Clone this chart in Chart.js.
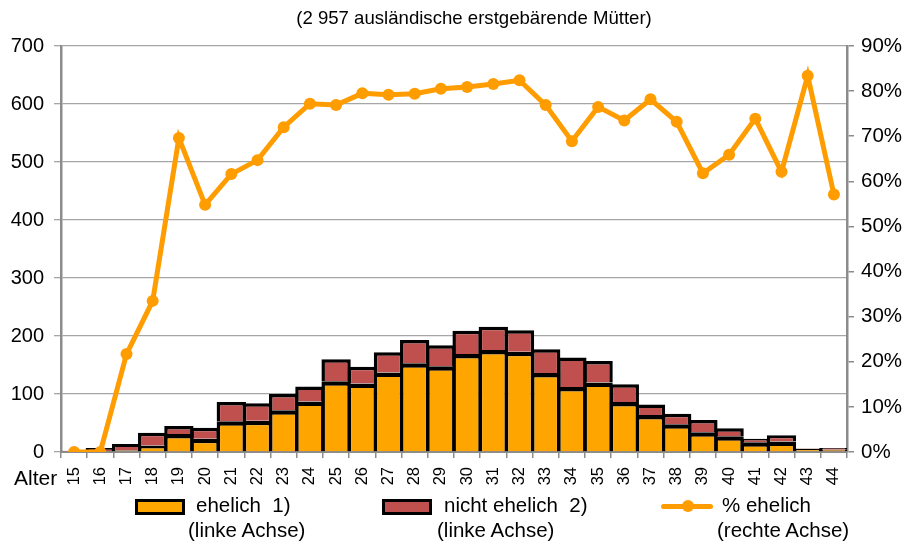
<!DOCTYPE html>
<html>
<head>
<meta charset="utf-8">
<script src="https://cdn.jsdelivr.net/npm/chart.js@4/dist/chart.umd.min.js"></script>
<style>
  html, body { margin: 0; padding: 0; background: #fff; }
  #wrap { position: relative; width: 906px; height: 543px; font-family: "Liberation Sans", Arial, sans-serif; color: #000; }
  canvas { position: absolute; left: 0; top: 0; }
  .txt { position: absolute; white-space: nowrap; line-height: 1; }
  .box { position: absolute; border: 3px solid #000; box-sizing: border-box; }
</style>
</head>
<body>
<div id="wrap">
  <canvas id="c" width="906" height="543"></canvas>
  <div class="txt" id="title" style="left:0;width:948px;top:9px;text-align:center;font-size:18.6px;">(2 957 ausländische erstgebärende Mütter)</div>
  <div class="txt" style="left:14px;top:467px;font-size:21px;">Alter</div>

  <div class="box" style="left:135px;top:499px;width:50px;height:16px;background:#FFA500;"></div>
  <div class="txt" style="left:196px;top:495px;font-size:20.5px;">ehelich&nbsp; 1)</div>
  <div class="txt" style="left:188px;top:520px;font-size:20.5px;">(linke Achse)</div>

  <div class="box" style="left:382px;top:499px;width:50px;height:16px;background:#C0504D;"></div>
  <div class="txt" style="left:444px;top:495px;font-size:20.5px;">nicht ehelich&nbsp; 2)</div>
  <div class="txt" style="left:437px;top:520px;font-size:20.5px;">(linke Achse)</div>

  <div style="position:absolute;left:661px;top:504px;width:52px;height:5px;background:#FF9C00;border-radius:3px;"></div>
  <div style="position:absolute;left:682px;top:500px;width:12px;height:12px;background:#FF9C00;border-radius:6px;"></div>
  <div class="txt" style="left:722px;top:495px;font-size:20.5px;">% ehelich</div>
  <div class="txt" style="left:717px;top:520px;font-size:20.5px;">(rechte Achse)</div>
</div>
<script>
const ages = ['15','16','17','18','19','20','21','22','23','24','25','26','27','28','29','30','31','32','33','34','35','36','37','38','39','40','41','42','43','44'];
const ehelich = [0, 0, 3, 11, 31, 23, 53, 54, 72, 87, 122, 118, 137, 153, 148, 169, 176, 173, 136, 112, 120, 86, 64, 48, 34, 27, 17, 18, 5, 4];
const nichtEhelich = [2, 7, 11, 22, 14, 19, 33, 30, 28, 26, 38, 29, 35, 40, 36, 40, 40, 37, 41, 51, 37, 31, 18, 18, 21, 14, 6, 11, 1, 3];
const pctEhelich = [0, 0, 21.7, 33.5, 69.6, 54.8, 61.6, 64.7, 72.0, 77.2, 76.9, 79.5, 79.2, 79.4, 80.5, 80.9, 81.6, 82.4, 76.9, 68.9, 76.5, 73.5, 78.2, 73.2, 61.8, 65.9, 73.9, 62.1, 83.4, 57.1];
const leftTicks = [0, 100, 200, 300, 400, 500, 600, 700];
const rightTicks = [0, 10, 20, 30, 40, 50, 60, 70, 80, 90];

// the "nicht ehelich" segment sits on top of "ehelich": drawn as a bar
// spanning [ehelich, ehelich + nicht ehelich] behind the ehelich bar
const nichtSegment = ehelich.map((v, i) => [v, v + nichtEhelich[i]]);

const FONT = "'Liberation Sans', Arial, sans-serif";
const axisGrey = '#8C8C8C';

new Chart(document.getElementById('c'), {
  data: {
    labels: ages,
    datasets: [
      {
        type: 'line', label: '% ehelich', data: pctEhelich, yAxisID: 'y1',
        borderColor: '#FF9C00', backgroundColor: '#FF9C00', borderWidth: 5,
        pointRadius: 6, pointHoverRadius: 6, pointBackgroundColor: '#FF9C00', pointBorderWidth: 0,
        tension: 0, order: 0
      },
      {
        type: 'bar', label: 'ehelich 1)', data: ehelich, yAxisID: 'y',
        backgroundColor: '#FFA500', borderColor: '#000',
        borderWidth: { top: 4.5, left: 3.5, right: 3.5, bottom: 0 }, borderSkipped: false, inflateAmount: 0,
        barPercentage: 1.12, categoryPercentage: 1, grouped: false, order: 1
      },
      {
        type: 'bar', label: 'nicht ehelich 2)', data: nichtSegment, yAxisID: 'y',
        backgroundColor: '#C0504D', borderColor: '#000',
        borderWidth: { top: 3.5, left: 3.5, right: 3.5, bottom: 0 }, borderSkipped: false, inflateAmount: 0,
        barPercentage: 1.12, categoryPercentage: 1, grouped: false, order: 1
      }
    ]
  },
  options: {
    responsive: false,
    animation: false,
    layout: { padding: { top: 46, left: 0, right: 0, bottom: 0 } },
    plugins: { legend: { display: false }, tooltip: { enabled: false }, title: { display: false } },
    scales: {
      x: {
        offset: true,
        grid: { display: true, drawOnChartArea: false, drawTicks: true, tickLength: 6, color: axisGrey, lineWidth: 1.5, offset: true },
        border: { display: true, color: axisGrey, width: 2 },
        ticks: { color: '#000', font: { family: FONT, size: 16.5 }, minRotation: 90, maxRotation: 90, autoSkip: false, padding: 9 },
        afterFit: s => { s.height = 91; }
      },
      y: {
        position: 'left', min: 0, max: 700,
        afterBuildTicks: s => { s.ticks = leftTicks.map(v => ({ value: v })); },
        grid: { color: '#A6A6A6', lineWidth: 1.3, tickLength: 7, drawTicks: true },
        border: { display: true, color: axisGrey, width: 2.5 },
        ticks: { color: '#000', font: { family: FONT, size: 20 }, padding: 10 },
        afterFit: s => { s.width = 61; }
      },
      y1: {
        position: 'right', min: 0, max: 90,
        afterBuildTicks: s => { s.ticks = rightTicks.map(v => ({ value: v })); },
        grid: { drawOnChartArea: false, drawTicks: true, tickLength: 7, color: axisGrey, lineWidth: 1.5 },
        border: { display: true, color: axisGrey, width: 2.5 },
        ticks: { color: '#000', font: { family: FONT, size: 20.5 }, padding: 7, callback: v => v + '%' },
        afterFit: s => { s.width = 59; }
      }
    }
  }
});
</script>
</body>
</html>
